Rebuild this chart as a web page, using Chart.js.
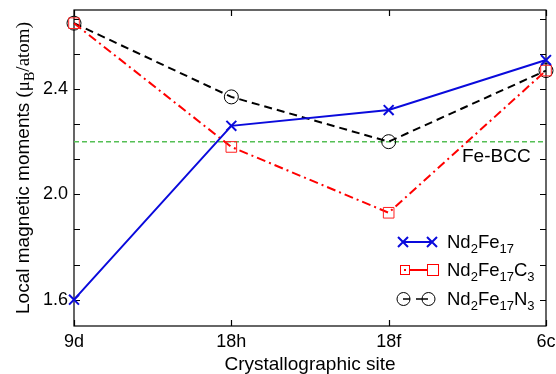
<!DOCTYPE html>
<html><head><meta charset="utf-8">
<script src="https://cdn.jsdelivr.net/npm/chart.js@4"></script>
<style>html,body{margin:0;padding:0;background:#fff}canvas{display:block}</style>
</head><body>
<canvas id="c" width="556" height="374"></canvas>
<script>
const sites = ['9d', '18h', '18f', '6c'];
const nd2fe17 = [1.60, 2.26, 2.32, 2.51];
const nd2fe17c3 = [2.65, 2.18, 1.93, 2.47];
const nd2fe17n3 = [2.65, 2.37, 2.20, 2.47];
const feBCC = [2.20, 2.20, 2.20, 2.20];
const yTickLabels = [1.6, 2.0, 2.4];
const yMinorTicks = [1.6, 1.7333, 1.8667, 2.0, 2.1333, 2.2667, 2.4, 2.5333, 2.6667];

const SANS = '"Liberation Sans", Arial, sans-serif';
const SERIF = '"Liberation Serif", "Times New Roman", serif';

function drawRich(ctx, x, y, parts, size) {
  let cx = x;
  for (const p of parts) {
    const sub = p[1];
    const fam = p[2] || SANS;
    const fs = sub ? Math.round(size * 0.72) : size;
    ctx.font = fs + 'px ' + fam;
    ctx.fillText(p[0], cx, sub ? y + size * 0.28 : y);
    cx += ctx.measureText(p[0]).width;
  }
  return cx - x;
}
function measureRich(ctx, parts, size) {
  let w = 0;
  for (const p of parts) {
    const fs = p[1] ? Math.round(size * 0.72) : size;
    ctx.font = fs + 'px ' + (p[2] || SANS);
    w += ctx.measureText(p[0]).width;
  }
  return w;
}

const decor = {
  id: 'decor',
  beforeDatasetsDraw(chart) {
    const {ctx, chartArea: a, scales: {x, y}} = chart;
    ctx.save();
    ctx.strokeStyle = '#000';
    ctx.lineWidth = 1.2;
    ctx.strokeRect(a.left, a.top, a.right - a.left, a.bottom - a.top);
    ctx.beginPath();
    for (const v of yMinorTicks) {
      const py = Math.round(y.getPixelForValue(v)) + 0.5;
      ctx.moveTo(a.left, py); ctx.lineTo(a.left + 6, py);
      ctx.moveTo(a.right, py); ctx.lineTo(a.right - 6, py);
    }
    for (let i = 0; i < sites.length; i++) {
      const px = Math.round(x.getPixelForValue(i)) + 0.5;
      ctx.moveTo(px, a.top); ctx.lineTo(px, a.top + 6);
      ctx.moveTo(px, a.bottom); ctx.lineTo(px, a.bottom - 6);
    }
    ctx.stroke();
    ctx.restore();
  },
  afterDraw(chart) {
    const {ctx, chartArea: a} = chart;
    ctx.save();
    ctx.fillStyle = '#000';
    ctx.textBaseline = 'alphabetic';
    ctx.font = '19px ' + SANS;
    ctx.fillText('Fe-BCC', 462, 162);
    const yparts = [['Local magnetic moments ', false, SANS], ['(\u03bc', false, SERIF], ['B', true, SERIF], ['/atom)', false, SERIF]];
    const tw = measureRich(ctx, yparts, 19);
    ctx.save();
    ctx.translate(29, (a.top + a.bottom) / 2);
    ctx.rotate(-Math.PI / 2);
    drawRich(ctx, -tw / 2, 0, yparts, 19);
    ctx.restore();
    const rows = [
      {y: 242, parts: [['Nd'], ['2', true], ['Fe'], ['17', true]]},
      {y: 270, parts: [['Nd'], ['2', true], ['Fe'], ['17', true], ['C'], ['3', true]]},
      {y: 299, parts: [['Nd'], ['2', true], ['Fe'], ['17', true], ['N'], ['3', true]]}
    ];
    ctx.lineWidth = 2;
    ctx.strokeStyle = '#0a0adc';
    ctx.beginPath(); ctx.moveTo(403, 242); ctx.lineTo(432, 242); ctx.stroke();
    for (const cx of [403, 432]) {
      ctx.beginPath();
      ctx.moveTo(cx - 5, 237); ctx.lineTo(cx + 5, 247);
      ctx.moveTo(cx + 5, 237); ctx.lineTo(cx - 5, 247);
      ctx.stroke();
    }
    ctx.strokeStyle = '#ff0000';
    ctx.fillStyle = '#ff0000';
    ctx.beginPath(); ctx.moveTo(409, 270); ctx.lineTo(427, 270); ctx.stroke();
    ctx.lineWidth = 1;
    ctx.strokeRect(400.5, 265.5, 9, 9);
    ctx.fillRect(404, 269, 2, 2);
    ctx.strokeRect(427.5, 264.5, 11, 11);
    ctx.strokeStyle = '#000';
    ctx.lineWidth = 1.5;
    ctx.beginPath(); ctx.moveTo(403, 299); ctx.lineTo(410, 299); ctx.moveTo(416, 299); ctx.lineTo(428, 299); ctx.stroke();
    ctx.lineWidth = 1;
    for (const cx of [403.5, 428.5]) { ctx.beginPath(); ctx.arc(cx, 299, 6.5, 0, Math.PI * 2); ctx.stroke(); }
    ctx.fillStyle = '#000';
    for (const r of rows) drawRich(ctx, 447, r.y + 6, r.parts, 18.5);
    ctx.restore();
  }
};

new Chart(document.getElementById('c'), {
  type: 'line',
  data: {
    labels: sites,
    datasets: [
      {label: 'Nd2Fe17', data: nd2fe17, borderColor: '#0a0adc', backgroundColor: 'transparent', borderWidth: 2,
       pointStyle: 'crossRot', pointRadius: 7, pointBorderWidth: 2, pointBorderColor: '#0a0adc', clip: false, order: 1},
      {label: 'Nd2Fe17C3', data: nd2fe17c3, borderColor: '#ff0000', backgroundColor: 'transparent', borderWidth: 2,
       borderDash: [9, 4, 2, 4], pointStyle: 'rect', pointRadius: 7.5, pointBorderWidth: 1, pointBorderColor: '#ff2020',
       pointBackgroundColor: 'transparent', clip: false, order: 2},
      {label: 'Nd2Fe17N3', data: nd2fe17n3, borderColor: '#000', backgroundColor: 'transparent', borderWidth: 2,
       borderDash: [8, 5], pointStyle: 'circle', pointRadius: 7, pointBorderWidth: 1, pointBorderColor: '#000',
       pointBackgroundColor: 'transparent', clip: false, order: 3},
      {label: 'Fe-BCC', data: feBCC, borderColor: '#55bf55', backgroundColor: 'transparent', borderWidth: 1.5,
       borderDash: [5, 3], pointRadius: 0, order: 4}
    ]
  },
  options: {
    responsive: false, devicePixelRatio: 1, animation: false,
    layout: {padding: {left: 0, top: 10, right: 10, bottom: 0}},
    plugins: {legend: {display: false}, tooltip: {enabled: false}},
    elements: {line: {tension: 0}},
    scales: {
      x: {
        type: 'category', offset: false,
        grid: {display: false, drawTicks: false}, border: {display: false},
        ticks: {color: '#000', font: {family: SANS, size: 18}, padding: 5, maxRotation: 0, autoSkip: false},
        title: {display: true, text: 'Crystallographic site', color: '#000', font: {family: SANS, size: 19}, padding: {top: 0, bottom: -2}},
        afterFit(s) { s.height = 48; s.paddingLeft = 0; s.paddingRight = 0; }
      },
      y: {
        min: 1.5, max: 2.7,
        grid: {display: false, drawTicks: false}, border: {display: false},
        afterBuildTicks(s) { s.ticks = yTickLabels.map(v => ({value: v})); },
        ticks: {color: '#000', font: {family: SANS, size: 18}, padding: 6, callback: v => Number(v).toFixed(1)},
        afterFit(s) { s.width = 74; s.paddingTop = 0; s.paddingBottom = 0; }
      }
    }
  },
  plugins: [decor]
});
</script>
</body></html>
